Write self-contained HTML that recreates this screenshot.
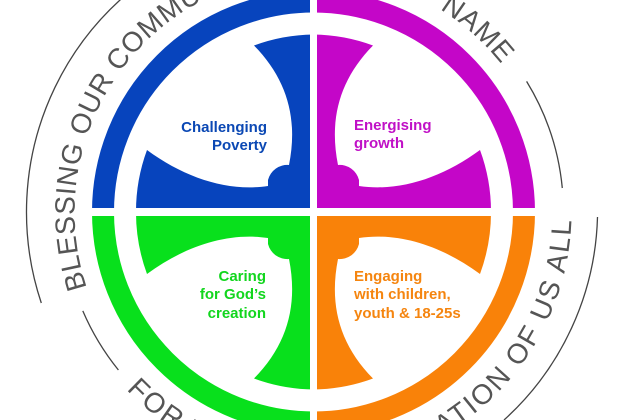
<!DOCTYPE html>
<html><head><meta charset="utf-8"><style>
html,body{margin:0;padding:0;background:#fff;width:630px;height:420px;overflow:hidden;}
svg{display:block;}
</style></head><body>
<svg width="630" height="420" viewBox="0 0 630 420" xmlns="http://www.w3.org/2000/svg" style="overflow:hidden">
<defs>
<path id="q" d="M313.5,212 L136,212 A177.5 177.5 0 0 1 147,150 C185,178 228,192 268,186 L268,180 A20 20 0 0 1 289,165 C298,120 288,80 254,45.5 A177.5 177.5 0 0 1 313.5,34.5 Z"/>
<path id="top" d="M86.9,287.8 A239 239 0 0 1 503.9,67.5"/>
<path id="bot" d="M126.4,389.6 A258 258 0 0 0 571.5,215.2"/>
</defs>
<rect width="630" height="420" fill="#fff"/>
<g fill="none" stroke-width="22">
<path d="M103,212 A210.5 210.5 0 0 1 313.5,1.5" stroke="#0744bd"/>
<path d="M313.5,1.5 A210.5 210.5 0 0 1 524,212" stroke="#c406c8"/>
<path d="M103,212 A210.5 210.5 0 0 0 313.5,422.5" stroke="#08e01c"/>
<path d="M313.5,422.5 A210.5 210.5 0 0 0 524,212" stroke="#f98209"/>
</g>
<use href="#q" fill="#0744bd"/>
<use href="#q" fill="#c406c8" transform="translate(627,0) scale(-1,1)"/>
<use href="#q" fill="#08e01c" transform="translate(0,424) scale(1,-1)"/>
<use href="#q" fill="#f98209" transform="translate(627,424) scale(-1,-1)"/>
<rect x="310" y="0" width="7" height="420" fill="#fff"/>
<rect x="0" y="208" width="630" height="8" fill="#fff"/>
<g fill="none" stroke="#444" stroke-width="1.3">
<path d="M41.3,303 A287 287 0 0 1 215.3,-57.7"/>
<path d="M526.6,81.4 A250 250 0 0 1 562.3,188"/>
<path d="M82.8,310.9 A251 251 0 0 0 118.4,370"/>
<path d="M597.5,217 A284 284 0 0 1 504,420"/>
</g>
<g font-family="Liberation Sans, sans-serif" fill="#555" font-size="28">
<text><textPath href="#top" textLength="668" lengthAdjust="spacing">BLESSING OUR COMMUNITIES IN JESUS’ NAME</textPath></text>
<text><textPath href="#bot" textLength="606" lengthAdjust="spacing">FOR THE TRANSFORMATION OF US  ALL</textPath></text>
</g>
<g font-family="Liberation Sans, sans-serif" font-weight="bold" font-size="15">
<text x="267" y="132" text-anchor="end" fill="#0b48b4">Challenging</text>
<text x="267" y="150" text-anchor="end" fill="#0b48b4">Poverty</text>
<text x="354" y="130" fill="#c010c6">Energising</text>
<text x="354" y="148" fill="#c010c6">growth</text>
<text x="266" y="281" text-anchor="end" fill="#12d61e">Caring</text>
<text x="266" y="299" text-anchor="end" fill="#12d61e">for God’s</text>
<text x="266" y="318" text-anchor="end" fill="#12d61e">creation</text>
<text x="354" y="281" fill="#f5850f">Engaging</text>
<text x="354" y="299" fill="#f5850f">with children,</text>
<text x="354" y="318" fill="#f5850f">youth &amp; 18-25s</text>
</g>
</svg>
</body></html>
